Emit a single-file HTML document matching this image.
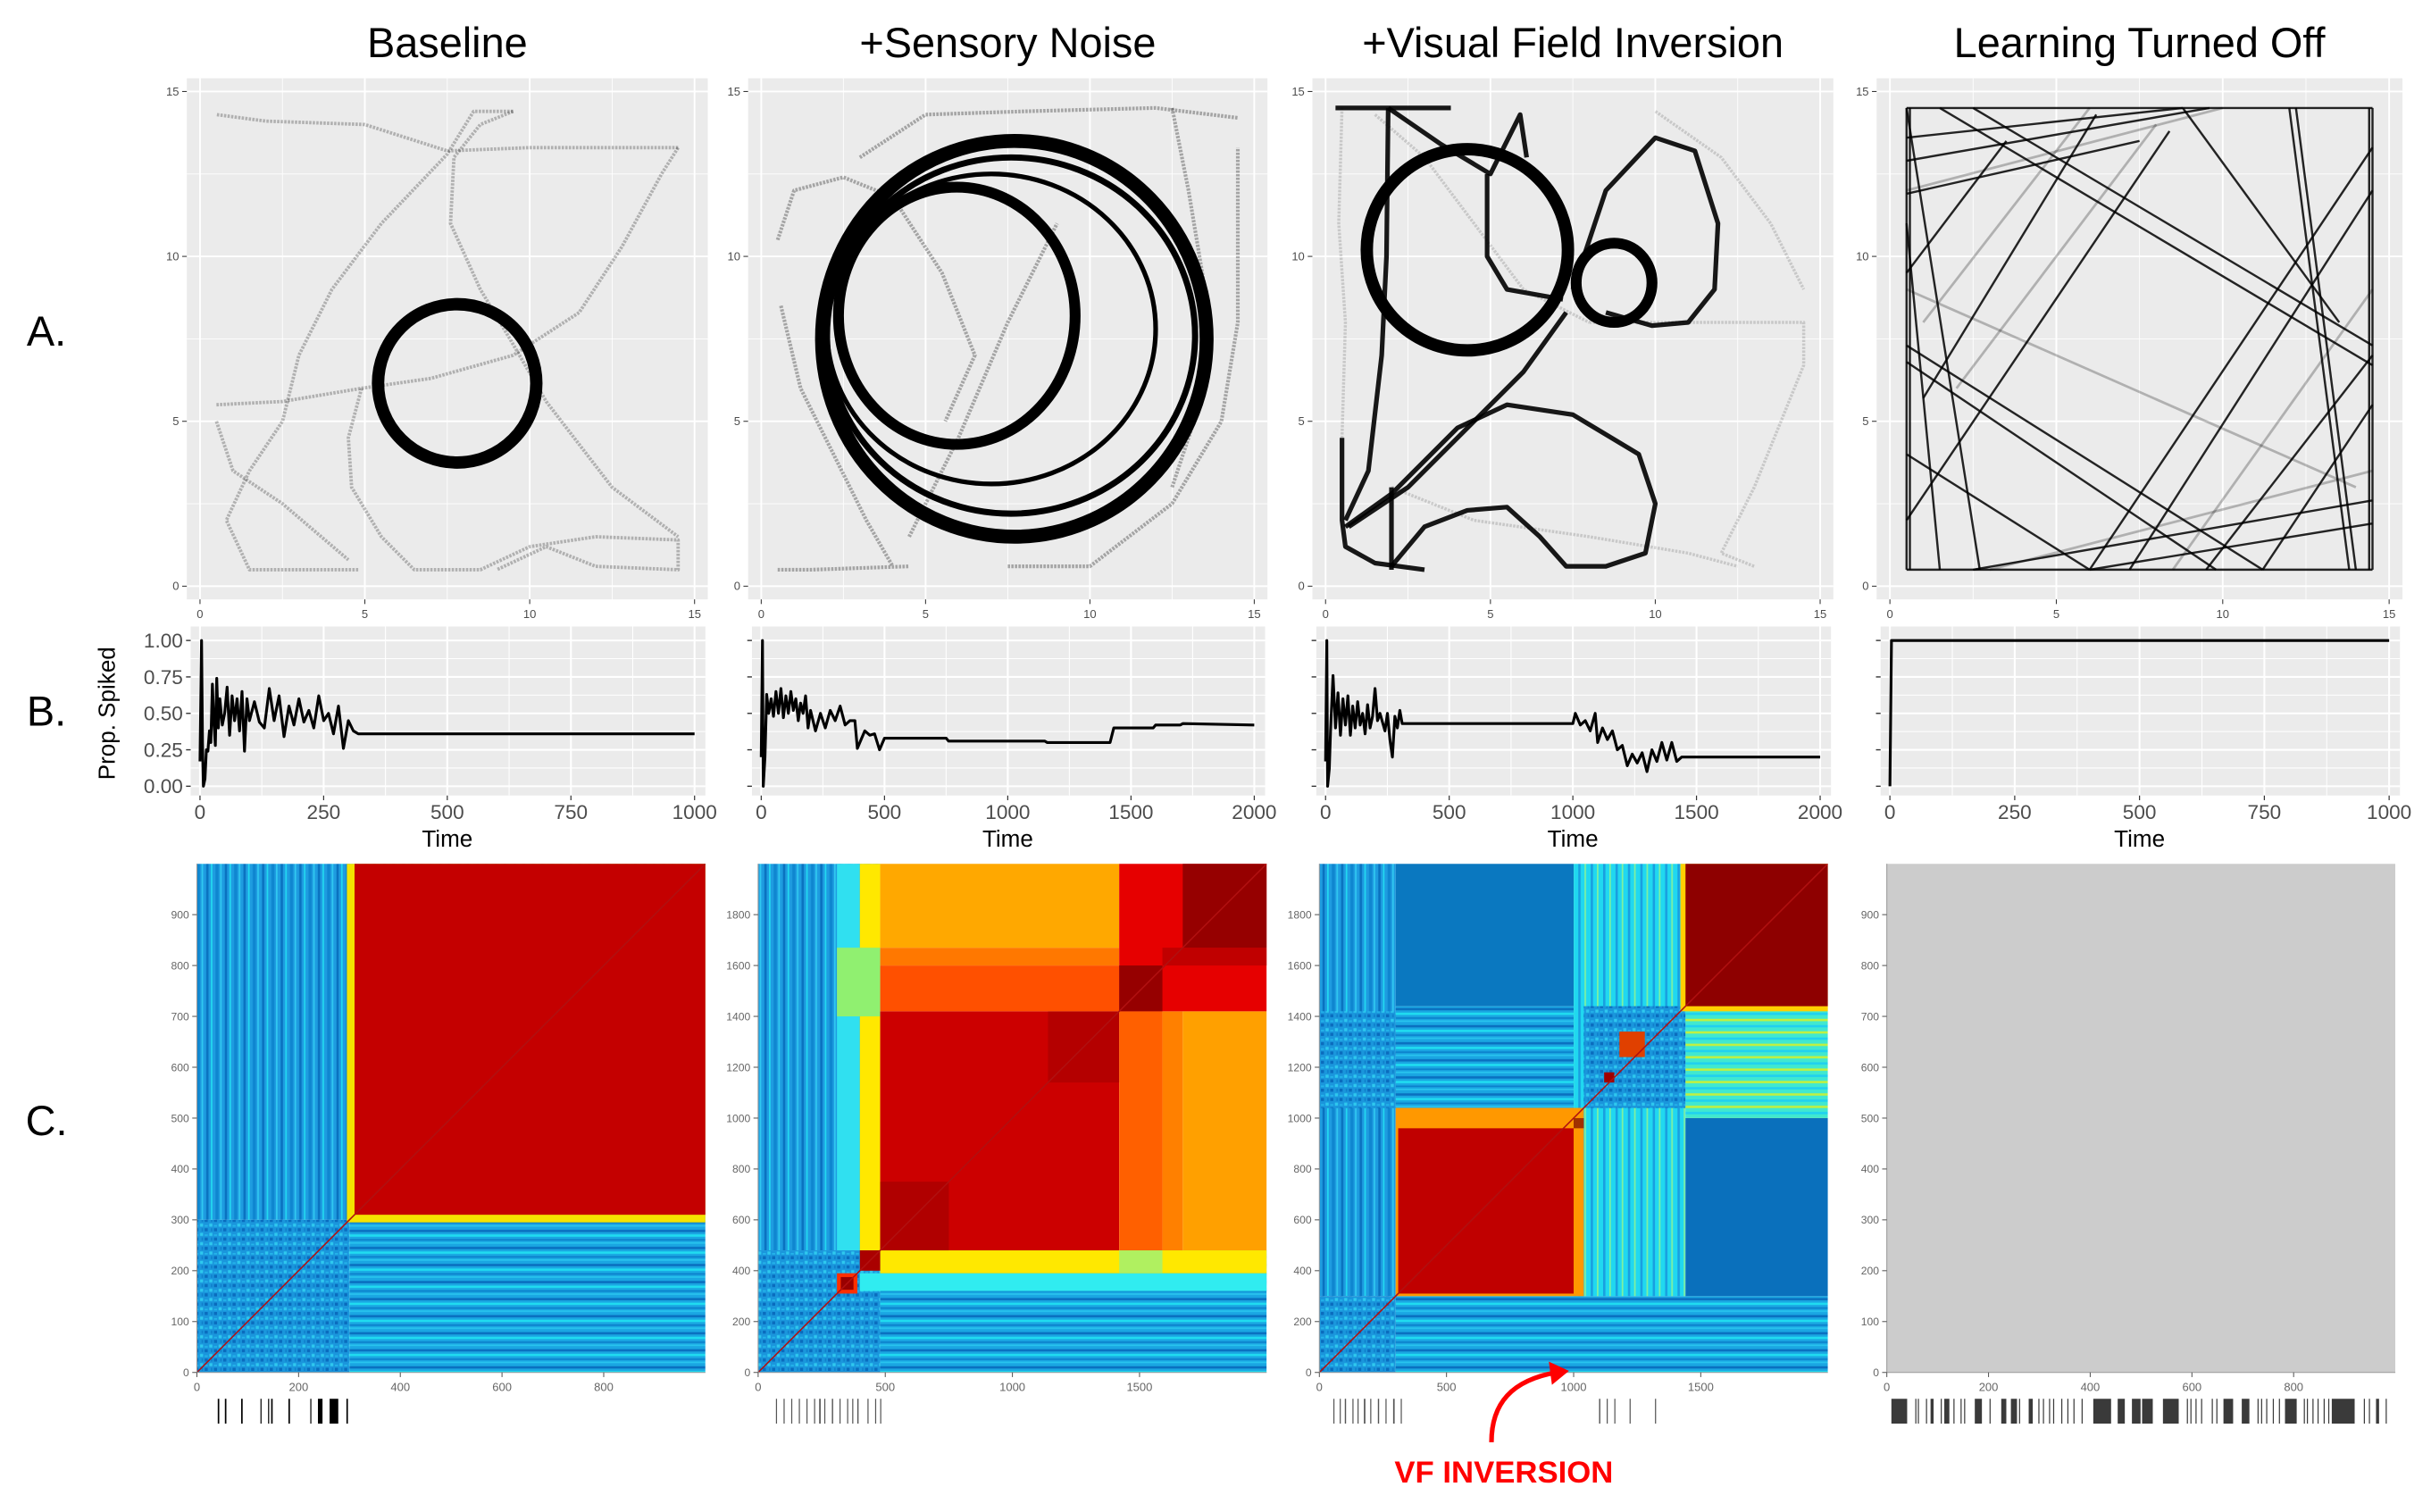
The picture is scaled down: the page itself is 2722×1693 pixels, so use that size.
<!DOCTYPE html>
<html><head><meta charset="utf-8"><title>Baseline / Sensory Noise / VF Inversion / Learning Off</title>
<style>
html,body{margin:0;padding:0;background:#fff;}
svg{display:block;font-family:"Liberation Sans",Arial,sans-serif;}
</style></head>
<body>
<svg id="fig" width="2722" height="1693" viewBox="0 0 1568 975" preserveAspectRatio="none" xmlns="http://www.w3.org/2000/svg">
<defs>
<pattern id="pv" width="12" height="10" patternUnits="userSpaceOnUse">
<rect width="12" height="10" fill="#1e9ce0"/><rect x="1" width="1.5" height="10" fill="#0a72c0"/><rect x="4" width="1" height="10" fill="#22d8f0"/><rect x="7" width="2" height="10" fill="#0f86d0"/><rect x="10" width="1" height="10" fill="#30c8f0"/></pattern>
<pattern id="ph" width="10" height="11" patternUnits="userSpaceOnUse">
<rect width="10" height="11" fill="#1aa6e2"/><rect y="1" width="10" height="1.5" fill="#0a70c0"/><rect y="4" width="10" height="1.5" fill="#20dcf0"/><rect y="7" width="10" height="1" fill="#0c80cc"/><rect y="9" width="10" height="1" fill="#28c4ee"/></pattern>
<pattern id="pn" width="6" height="6" patternUnits="userSpaceOnUse">
<rect width="6" height="6" fill="#1a96dc"/><rect x="0" y="0" width="2" height="2" fill="#0a6cbe"/><rect x="3" y="3" width="2" height="2" fill="#2ec8ee"/><rect x="4" y="0" width="1" height="2" fill="#1080cc"/><rect x="0" y="4" width="2" height="1" fill="#24b4ea"/></pattern>
<pattern id="pc" width="8" height="8" patternUnits="userSpaceOnUse">
<rect width="8" height="8" fill="#20d8f0"/><rect x="2" width="1.5" height="8" fill="#1a9fe0"/><rect x="6" width="1" height="8" fill="#80f0a0"/></pattern>
<pattern id="pg" width="8" height="8" patternUnits="userSpaceOnUse">
<rect width="8" height="8" fill="#40e8d0"/><rect y="1" width="8" height="1.5" fill="#c0f040"/><rect y="5" width="8" height="1.5" fill="#20d0f0"/></pattern>
</defs>
</svg>
<script>
// ---------- data ----------
const titles = ["Baseline","+Sensory Noise","+Visual Field Inversion","Learning Turned Off"];
const tMax = [1000,2000,2000,1000];
const bTicks = [[0,250,500,750,1000],[0,500,1000,1500,2000],[0,500,1000,1500,2000],[0,250,500,750,1000]];
const yTicks = [0,0.25,0.5,0.75,1];
const yTickLabels = ["0.00","0.25","0.50","0.75","1.00"];
// Prop. spiked series [time, value]
const spike0 = [[0,0.17],[3,1.0],[5,0.3],[7,0.0],[10,0.05],[13,0.25],[16,0.24],[19,0.38],[22,0.3],[25,0.7],[28,0.45],[31,0.28],[34,0.74],[37,0.4],[40,0.6],[45,0.42],[50,0.5],[55,0.68],[60,0.35],[65,0.62],[70,0.45],[75,0.6],[80,0.38],[85,0.65],[90,0.24],[95,0.6],[100,0.45],[110,0.58],[120,0.44],[130,0.4],[140,0.67],[150,0.45],[160,0.62],[170,0.34],[180,0.55],[190,0.42],[200,0.6],[210,0.44],[220,0.52],[230,0.4],[240,0.62],[250,0.45],[260,0.5],[270,0.36],[280,0.55],[290,0.26],[300,0.45],[310,0.38],[320,0.36],[1000,0.36]];
const spike1 = [[0,0.2],[5,1.0],[8,0.0],[15,0.2],[22,0.63],[30,0.5],[40,0.6],[50,0.48],[60,0.65],[70,0.5],[80,0.67],[90,0.47],[100,0.62],[110,0.5],[120,0.65],[130,0.52],[140,0.6],[150,0.45],[160,0.57],[170,0.5],[180,0.62],[190,0.4],[200,0.52],[220,0.38],[240,0.5],[260,0.4],[280,0.52],[300,0.45],[320,0.55],[340,0.42],[360,0.45],[380,0.45],[390,0.26],[400,0.3],[420,0.38],[440,0.35],[460,0.36],[480,0.25],[500,0.33],[750,0.33],[760,0.31],[1150,0.31],[1160,0.3],[1415,0.3],[1430,0.4],[1590,0.4],[1600,0.42],[1700,0.42],[1710,0.43],[2000,0.42]];
const spike2 = [[0,0.17],[5,1.0],[8,0.0],[15,0.12],[20,0.38],[30,0.76],[40,0.4],[50,0.64],[60,0.35],[70,0.6],[80,0.42],[90,0.62],[100,0.35],[110,0.55],[120,0.4],[130,0.58],[140,0.42],[150,0.5],[160,0.36],[170,0.56],[180,0.4],[190,0.48],[200,0.67],[210,0.45],[220,0.5],[240,0.38],[250,0.5],[260,0.32],[270,0.2],[280,0.48],[290,0.4],[300,0.52],[310,0.43],[1000,0.43],[1010,0.5],[1030,0.42],[1050,0.45],[1070,0.38],[1090,0.5],[1100,0.3],[1120,0.4],[1140,0.32],[1160,0.38],[1180,0.25],[1200,0.28],[1220,0.14],[1240,0.22],[1260,0.16],[1280,0.23],[1300,0.1],[1320,0.25],[1340,0.17],[1360,0.3],[1380,0.18],[1400,0.3],[1420,0.17],[1440,0.2],[2000,0.2]];
const spike3 = [[0,0.0],[3,1.0],[1000,1.0]];
const spikes = [spike0,spike1,spike2,spike3];
// Trajectory geometry (arena units 0..15)
const rings = [[[7.8,6.15,2.4,2.4,8]],
  [[7.7,7.5,5.85,6.0,9],[5.95,8.2,3.6,3.9,7],[7.0,7.8,5.0,4.7,3],[7.6,7.6,5.6,5.4,4]],
  [[4.3,10.2,3.05,3.05,8],[8.75,9.2,1.15,1.2,7]],
  []];
const paths0 = [
 [[0.5,5.5],[2.5,5.6],[4.9,6.0],[7,6.3],[9.5,7],[11.5,8.3],[12.8,10.3],[14,12.5],[14.5,13.3]],
 [[14.5,13.3],[10,13.3],[7.5,13.2],[5,14],[2,14.1],[0.5,14.3]],
 [[9.5,14.4],[8.3,14.4],[7.5,13.1],[5.5,11],[4,9],[3,7],[2.5,5],[1.5,3.5],[0.8,2],[1.5,0.5],[4.8,0.5]],
 [[9.5,14.4],[8.5,14],[7.7,13],[7.6,11],[8.5,9],[9.4,7.5],[10.5,5.6],[12.5,3],[14.5,1.5]],
 [[0.5,5],[1,3.5],[2.5,2.5],[4.5,0.8]],
 [[4.9,6],[4.5,4.5],[4.6,3],[5.5,1.5],[6.5,0.5],[8.5,0.5],[10,1.2],[12,1.5],[14.5,1.4],[14.5,0.5],[12,0.6],[10.5,1.2],[9,0.5]]];
const paths1 = [
 [[0.5,0.5],[1.5,0.5],[4.5,0.6]],[[7.5,0.6],[10,0.6],[12.5,2.5],[14,5],[14.5,8],[14.5,13.3]],
 [[0.5,10.5],[1,12],[2.5,12.4],[4,11.8],[5.5,9.5],[6.5,7],[5.6,5]],
 [[3,13],[5,14.3],[8,14.4],[12,14.5],[14.5,14.2]],[[0.6,8.5],[1.2,6],[2.2,4],[3.2,2],[4,0.6]],
 [[12.5,14.5],[13,12],[13.5,9],[13.5,6],[12.5,3]],[[4.5,1.5],[6,4.5],[7.5,8],[9,11]]];
const paths2 = [
 [[1.9,14.5],[1.85,10],[1.7,7],[1.3,3.5],[0.6,2]],
 [[7.5,9],[8.5,12],[10,13.6],[11.2,13.2],[11.9,11],[11.8,9],[11,8],[9.9,7.9],[8.5,8.3]],
 [[0.6,1.8],[2,2.8],[4,4.8],[5.5,5.5],[7.5,5.2],[9.5,4],[10,2.5],[9.7,1],[8.5,0.6],[7.3,0.6],[6.5,1.5],[5.5,2.4],[4.3,2.3],[3,1.8],[2,0.6]],
 [[0.7,1.8],[2.5,3],[4.5,5],[6,6.5],[7.3,8.3]],
 [[1.9,14.5],[3.5,13.4],[5,12.5],[5.5,13.5],[5.9,14.3],[6.1,13]],[[4.9,12.5],[4.9,10],[5.5,9],[7.2,8.7]],
 [[0.5,4.5],[0.5,2],[0.6,1.2],[1.5,0.7],[3,0.5]],[[0.3,14.5],[3.8,14.5]],[[2,0.5],[2,3]]];
const paths2gray = [[[0.5,14.5],[0.4,11],[0.6,8],[0.5,4.5]],[[1.5,14.3],[3,13],[6,9],[8,8]],[[8,8],[12,8],[14.5,8],[14.5,6.7],[13,3],[12,1],[13,0.6]],[[10,14.4],[12,13],[13.5,11],[14.5,9]],[[2,3],[4.5,2],[8,1.5],[11,1],[12.5,0.6]]];
const segs3 = [[0.5,14.5,14.5,14.5],[0.5,0.5,14.5,0.5],[0.5,0.5,0.5,14.5],[14.5,0.5,14.5,14.5],
 [0.5,13.6,8.8,14.5],[0.5,12.9,9.6,14.5],[0.5,11.9,7.5,13.5],[2.5,14.5,14.5,7.3],[1.5,14.5,14.5,6.7],
 [0.5,7.3,11.2,0.5],[0.5,6.8,9.8,0.5],[0.5,4,6,0.5],[1,5.7,6.2,14.3],[0.5,2,8.4,13.8],[6,0.5,14.5,13.3],
 [7.2,0.5,14.5,12],[11.2,0.5,14.5,5.5],[2.5,0.5,14.5,2.6],[6,0.5,14.5,1.9],[12,14.5,13.8,0.5],
 [0.5,14.5,2.7,0.5],[0.5,11,1.5,0.5],[8.8,14.5,13.5,8],[3.5,13.5,0.5,9.5],[9.5,0.5,14.5,7],
 [0.6,0.5,0.6,14.5],[14.4,0.5,14.4,14.5],[12.2,14.5,14,0.5]];
const segs3gray = [[0.5,12,10,14.5],[1,8,6,14.5],[2,6,8,14],[8.5,0.5,14.5,9],[0.5,9,14,3],[3,0.5,14.5,3.5]];
// Recurrence heatmap blocks [t0,t1 (x), s0,s1 (y), fill]
const hm0 = [[0,1000,300,1000,'url(#pv)'],[0,300,0,300,'url(#pn)'],[300,1000,0,300,'url(#ph)'],[295,1000,295,1000,'#f4e200'],[310,1000,310,1000,'#c40000']];
const hm1 = [[0,480,480,2000,'url(#pv)'],[310,400,480,2000,'#30e0f0'],[400,480,480,2000,'#ffe800'],[310,480,1400,1670,'#90f070'],
 [0,480,0,480,'url(#pn)'],[480,2000,0,480,'url(#ph)'],[400,2000,320,390,'#30ecf0'],[480,2000,390,480,'#ffe800'],[1420,1590,390,480,'#b0f060'],
 [480,1420,480,1420,'#cc0000'],[480,750,480,750,'#b00000'],[1140,1420,1140,1420,'#b40000'],[1420,1590,480,1420,'#ff6000'],[1590,1670,480,1420,'#ff8000'],[1670,2000,480,1420,'#ffa000'],
 [480,1420,1420,1600,'#ff5000'],[480,1420,1600,1670,'#ff7800'],[480,1420,1670,2000,'#ffa800'],[1420,2000,1420,2000,'#e60000'],[1420,1590,1420,1600,'#960000'],[1590,2000,1600,1670,'#c00000'],[1670,2000,1670,2000,'#960000'],
 [310,390,310,390,'#ff3000'],[325,375,325,375,'#990000'],[400,480,400,480,'#aa0000']];
const hm2 = [[0,300,300,2000,'url(#pv)'],[0,300,0,300,'url(#pn)'],[300,2000,0,300,'url(#ph)'],[0,300,1040,1420,'url(#pn)'],
 [300,1000,1040,1440,'url(#ph)'],[300,1000,1440,2000,'#0a78c0'],[1000,1440,300,2000,'url(#pc)'],[1040,1440,1040,1440,'url(#pn)'],
 [1440,2000,1000,1440,'url(#pg)'],[1440,2000,300,1000,'#0a70bc'],[1420,2000,1420,2000,'#ffd000'],[1440,2000,1440,2000,'#8e0000'],
 [300,1040,300,1040,'#ff9800'],[310,1000,310,960,'#c00000'],[1000,1040,960,1000,'#a03000'],
 [1180,1280,1240,1340,'#e04000'],[1120,1160,1140,1180,'#a00000']];
const heatmaps = [hm0,hm1,hm2,[[0,1000,0,1000,'#cccccc']]];
const hmXTicks = [[0,200,400,600,800],[0,500,1000,1500],[0,500,1000,1500],[0,200,400,600,800]];
const hmYTicks = [[0,100,200,300,400,500,600,700,800,900],[0,200,400,600,800,1000,1200,1400,1600,1800],[0,200,400,600,800,1000,1200,1400,1600,1800],[0,100,200,300,400,500,600,700,800,900]];
// Spike barcodes [time, width]
const bar0 = [[41,3],[55,3],[87,3],[125,2],[140,2],[146,3],[180,3],[223,2],[238,9],[261,17],[294,3]];
const bar1 = [[70,4],[100,3],[130,3],[160,3],[190,4],[220,3],[240,6],[260,3],[290,5],[320,3],[350,3],[370,4],[390,5],[430,2],[460,2],[480,3]];
const bar2 = [[55,4],[80,3],[100,5],[130,4],[150,3],[175,6],[200,4],[230,5],[260,4],[290,6],[320,4],[1100,5],[1130,4],[1160,4],[1220,4],[1320,3]];
const bar3 = [[9,31],[56,1],[61,1],[77,2],[86,6],[106,2],[113,10],[131,2],[145,2],[152,1],[173,14],[202,2],[225,10],[244,12],[260,1],[279,8],[298,1],[307,2],[319,1],[327,2],[343,1],[355,1],[367,2],[383,2],[406,35],[454,14],[482,17],[502,21],[543,31],[590,1],[597,1],[607,2],[618,1],[639,2],[648,1],[662,19],[698,15],[729,1],[736,2],[746,2],[759,1],[771,2],[783,23],[820,2],[826,1],[837,2],[847,1],[859,2],[868,1],[875,45],[938,1],[948,1],[962,6],[981,1]];
const bars = [bar0,bar1,bar2,bar3];
const barShade = ['#000','#555','#555','#3a3a3a'];

// ---------- layout ----------
const NS = "http://www.w3.org/2000/svg";
const svg = document.getElementById('fig');
const colX = [129,491,855,1219];
const colW = [319,318,319,322];
const A_Y0 = 378, A_H = 319;
const B_Y0 = 507, B_H = 94;
const hmX = [127,489,851,1217], HM = 328, HM_Y0 = 885;

function el(tag, attrs, parent){
  const e = document.createElementNS(NS, tag);
  for (const k in attrs) e.setAttribute(k, attrs[k]);
  (parent || svg).appendChild(e);
  return e;
}
function txt(x,y,s,size,fill,anchor,parent,weight){
  const t = el('text',{x:x,y:y,'font-size':size,fill:fill,'text-anchor':anchor||'middle','font-weight':weight||'normal'},parent);
  t.textContent = s;
  return t;
}
const ax = (c,u)=>colX[c]+u/15*colW[c];
const ay = u=>A_Y0-u/15*A_H;
const bx = (c,t)=>colX[c]+t/tMax[c]*colW[c];
const by = v=>B_Y0-v*B_H;
const hx = (c,t)=>hmX[c]+t/tMax[c]*HM;
const hy = (c,t)=>HM_Y0-t/tMax[c]*HM;

// row labels
[['A.',223],['B.',468],['C.',732]].forEach(([s,y])=>{
  const t = txt(30,y,s,27,'#000');
  
  
});

for (let c=0;c<4;c++){
  const g = el('g',{});
  
  
  const cx = colX[c]+colW[c]/2;
  const tt = txt(cx,37,titles[c],27,'#000','middle',g);
  
  

  // ---- A: trajectory panel ----
  const pa = el('g',{},g);
  
  
  const bg = el('rect',{x:ax(c,-0.4),y:ay(15.4),width:ax(c,15.4)-ax(c,-0.4),height:ay(-0.4)-ay(15.4),fill:'#ebebeb'},pa);
  
  
  for (let u=0;u<=15;u+=2.5){
    const w = (u%5===0)?1.1:0.5;
    el('line',{x1:ax(c,u),x2:ax(c,u),y1:ay(15.4),y2:ay(-0.4),stroke:'#fff','stroke-width':w},pa);
    el('line',{y1:ay(u),y2:ay(u),x1:ax(c,-0.4),x2:ax(c,15.4),stroke:'#fff','stroke-width':w},pa);
  }
  for (let u=0;u<=15;u+=5){
    el('line',{x1:ax(c,u),x2:ax(c,u),y1:ay(-0.4),y2:ay(-0.4)+3,stroke:'#333','stroke-width':0.6},pa);
    el('line',{x1:ax(c,-0.4)-3,x2:ax(c,-0.4),y1:ay(u),y2:ay(u),stroke:'#333','stroke-width':0.6},pa);
    const xl = txt(ax(c,u),ay(-0.4)+12,String(u),7.5,'#4d4d4d','middle',pa);
    
    
    const yl = txt(ax(c,-0.4)-5,ay(u)+2.5,String(u),7.5,'#4d4d4d','end',pa);
    
    
  }
  const pts = arr=>arr.map(p=>ax(c,p[0]).toFixed(1)+','+ay(p[1]).toFixed(1)).join(' ');
  function traj(arr, stroke, w, op, dash){
    const p = el('polyline',{points:pts(arr),fill:'none',stroke:stroke,'stroke-width':w,'stroke-opacity':op,'stroke-linejoin':'round','stroke-dasharray':dash},pa);
    
    
  }
  if (c===0) paths0.forEach(a=>traj(a,'#000',2.2,0.25,'1.5 0.8'));
  if (c===1) paths1.forEach(a=>traj(a,'#000',2.4,0.3,'1.5 0.8'));
  if (c===2){ paths2gray.forEach(a=>traj(a,'#000',2,0.15,'1.5 0.8')); paths2.forEach(a=>traj(a,'#000',3,0.9,'none')); }
  if (c===3){
    segs3gray.forEach(s=>{const l=el('line',{x1:ax(c,s[0]),y1:ay(s[1]),x2:ax(c,s[2]),y2:ay(s[3]),stroke:'#000','stroke-opacity':0.25,'stroke-width':1.6},pa);
      
      });
    segs3.forEach(s=>{const l=el('line',{x1:ax(c,s[0]),y1:ay(s[1]),x2:ax(c,s[2]),y2:ay(s[3]),stroke:'#000','stroke-opacity':0.85,'stroke-width':1.4},pa);
      
      });
  }
  rings[c].forEach(r=>{
    const e = el('ellipse',{cx:ax(c,r[0]),cy:ay(r[1]),rx:r[2]/15*colW[c],ry:r[3]/15*A_H,fill:'none',stroke:'#000','stroke-width':r[4]},pa);
    
    
  });

  // ---- B: prop spiked ----
  const pb = el('g',{},g);
  
  
  const x0 = colX[c]-6, x1 = colX[c]+colW[c]+7;
  const bbg = el('rect',{x:x0,y:404,width:x1-x0,height:109,fill:'#ebebeb'},pb);
  
  
  const tk = bTicks[c];
  for (let i=0;i<tk.length;i++){
    el('line',{x1:bx(c,tk[i]),x2:bx(c,tk[i]),y1:404,y2:513,stroke:'#fff','stroke-width':1.2},pb);
    if (i<tk.length-1){const m=(tk[i]+tk[i+1])/2; el('line',{x1:bx(c,m),x2:bx(c,m),y1:404,y2:513,stroke:'#fff','stroke-width':0.6},pb);}
    el('line',{x1:bx(c,tk[i]),x2:bx(c,tk[i]),y1:513,y2:516,stroke:'#333','stroke-width':0.7},pb);
    const l = txt(bx(c,tk[i]),528,String(tk[i]),13,'#4d4d4d','middle',pb);
    
    
  }
  yTicks.forEach((v,i)=>{
    el('line',{x1:x0,x2:x1,y1:by(v),y2:by(v),stroke:'#fff','stroke-width':1.2},pb);
    if (i<4) el('line',{x1:x0,x2:x1,y1:by(v+0.125),y2:by(v+0.125),stroke:'#fff','stroke-width':0.6},pb);
    el('line',{x1:x0-3,x2:x0,y1:by(v),y2:by(v),stroke:'#333','stroke-width':0.8},pb);
    if (c===0){
      const l = txt(x0-5,by(v)+4.5,yTickLabels[i],13,'#4d4d4d','end',pb);
      
      
    }
  });
  const line = el('polyline',{points:spikes[c].map(p=>bx(c,p[0]).toFixed(1)+','+by(p[1]).toFixed(1)).join(' '),fill:'none',stroke:'#000','stroke-width':1.8,'stroke-linejoin':'round'},pb);
  
  
  const tl = txt(colX[c]+colW[c]/2,546,'Time',15,'#000','middle',pb);
  
  
  if (c===0){
    const yt = txt(0,0,'Prop. Spiked',15,'#000','middle',pb);
    yt.setAttribute('transform','translate(74,460) rotate(-90)');
    
    
  }

  // ---- C: heatmap ----
  const pc = el('g',{},g);
  
  
  const clipId = 'clip'+c;
  const cp = el('clipPath',{id:clipId},pc);
  el('rect',{x:hmX[c],y:HM_Y0-HM,width:HM,height:HM},cp);
  const hg = el('g',{'clip-path':'url(#'+clipId+')'},pc);
  heatmaps[c].forEach(b=>{
    const r = el('rect',{x:hx(c,b[0]),y:hy(c,b[3]),width:hx(c,b[1])-hx(c,b[0]),height:hy(c,b[2])-hy(c,b[3]),fill:b[4]},hg);
    
    
  });
  if (c<3){
    const d = el('line',{x1:hx(c,0),y1:hy(c,0),x2:hx(c,tMax[c]),y2:hy(c,tMax[c]),stroke:'#b01010','stroke-width':0.9},hg);
    
    
  }
  el('line',{x1:hmX[c],x2:hmX[c]+HM,y1:HM_Y0,y2:HM_Y0,stroke:'#999','stroke-width':0.6},pc);
  el('line',{x1:hmX[c],x2:hmX[c],y1:HM_Y0-HM,y2:HM_Y0,stroke:'#999','stroke-width':0.6},pc);
  hmXTicks[c].forEach(t=>{
    el('line',{x1:hx(c,t),x2:hx(c,t),y1:HM_Y0,y2:HM_Y0+3,stroke:'#555','stroke-width':0.6},pc);
    const l = txt(hx(c,t),HM_Y0+12,String(t),7.5,'#666','middle',pc);
    
    
  });
  hmYTicks[c].forEach(t=>{
    el('line',{x1:hmX[c]-3,x2:hmX[c],y1:hy(c,t),y2:hy(c,t),stroke:'#555','stroke-width':0.6},pc);
    const l = txt(hmX[c]-5,hy(c,t)+2.5,String(t),7,'#666','end',pc);
    
    
  });

  // barcode
  const bcg = el('g',{},g);
  
  
  bars[c].forEach(b=>{
    const r = el('rect',{x:hx(c,b[0]),y:902,width:Math.max(0.7,hx(c,b[0]+b[1])-hx(c,b[0])),height:16,fill:barShade[c]},bcg);
    
    
  });
}

// VF inversion annotation
const ann = el('g',{});


el('path',{d:'M962,930 C962,905 975,890 1004,885',fill:'none',stroke:'#ff0000','stroke-width':3},ann);
el('polygon',{points:'1012,884 999,878 1001,893',fill:'#ff0000'},ann);
const at = txt(970,956,'VF INVERSION',20,'#ff0000','middle',ann,'bold');


</script>
</body></html>
